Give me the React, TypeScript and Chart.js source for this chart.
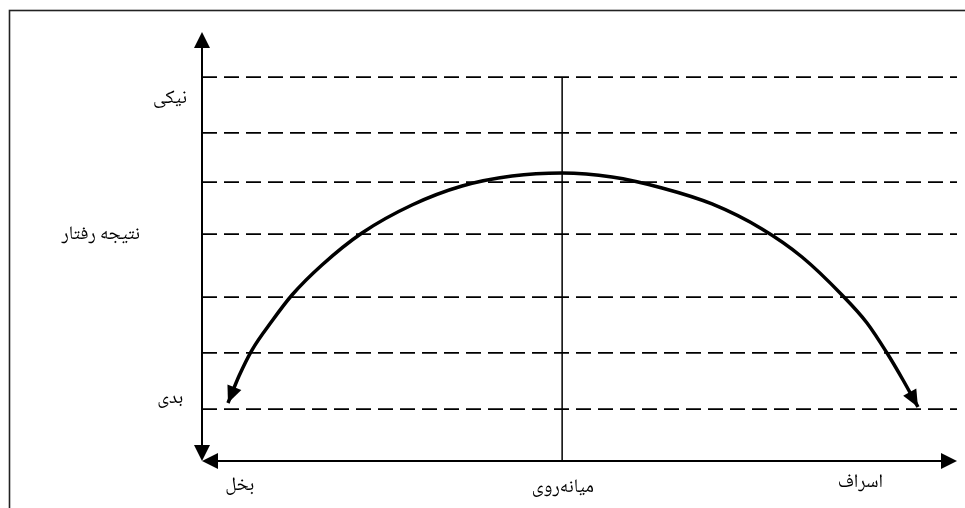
import React, { useEffect, useRef } from 'react';
import { Chart, registerables } from 'chart.js';

Chart.register(...registerables);

// Curve ("نتیجه رفتار" over the behaviour axis)
const curveX = [3.44, 4.90, 6.62, 9.27, 11.92, 15.89, 21.19, 27.81, 34.44, 41.06, 47.68, 54.30, 60.93, 67.55, 74.17, 79.47, 84.77, 88.08, 90.73, 92.85, 94.83];
const curveY = [13.52, 19.81, 25.87, 32.63, 38.69, 45.69, 53.15, 59.67, 64.10, 66.43, 67.13, 66.20, 63.64, 59.91, 54.08, 47.55, 38.69, 32.17, 25.17, 18.88, 12.59];

// Dashed horizontal levels
const dashedLevels = [89.5, 76.5, 65.0, 52.9, 38.2, 25.2, 12.1];
const dashedFrom = 0;
const dashedTo = 100;

// Middle vertical line
const middleX = 47.7;
const middleTop = 89.5;

// Axis labels
const yLabels = ['نیکی', 'نتیجه رفتار', 'بدی'];
const yLabelValues = [84.1, 52.2, 14.2];
const yLabelAnchorX = [-2.0, -8.2, -2.5];

const xLabels = ['بخل', 'میانه\u200cروی', 'اسراف'];
const xLabelValues = [5.0, 47.8, 87.2];
const xLabelY = [-6.2, -6.6, -5.6];

const FONT = '19px "Noto Naskh Arabic", "Liberation Serif", "DejaVu Serif", "DejaVu Sans", serif';

function arrowHead(ctx: CanvasRenderingContext2D, tipX: number, tipY: number, fromX: number, fromY: number, len: number, half: number) {
  const dx = tipX - fromX;
  const dy = tipY - fromY;
  const d = Math.hypot(dx, dy) || 1;
  const ux = dx / d;
  const uy = dy / d;
  const bx = tipX - ux * len;
  const by = tipY - uy * len;
  ctx.beginPath();
  ctx.moveTo(tipX, tipY);
  ctx.lineTo(bx - uy * half, by + ux * half);
  ctx.lineTo(bx + uy * half, by - ux * half);
  ctx.closePath();
  ctx.fill();
}

const diagramPlugin = {
  id: 'diagram',
  afterDatasetsDraw(chart: any) {
    const { ctx, scales } = chart;
    const xs = scales.x;
    const ys = scales.y;
    const x0 = xs.getPixelForValue(xs.min);
    const x1 = xs.getPixelForValue(xs.max);
    const y0 = ys.getPixelForValue(ys.min);
    const y1 = ys.getPixelForValue(ys.max);
    ctx.save();
    ctx.strokeStyle = '#000';
    ctx.fillStyle = '#000';
    ctx.lineWidth = 2;
    // y axis
    ctx.beginPath();
    ctx.moveTo(x0, y0 - 10);
    ctx.lineTo(x0, y1 + 10);
    ctx.stroke();
    // x axis
    ctx.beginPath();
    ctx.moveTo(x0 + 10, y0);
    ctx.lineTo(x1 - 10, y0);
    ctx.stroke();
    arrowHead(ctx, x0, y1, x0, y1 + 20, 16, 8);
    arrowHead(ctx, x0, y0, x0, y0 - 20, 16, 8);
    arrowHead(ctx, x0, y0, x0 + 20, y0, 16, 8);
    arrowHead(ctx, x1, y0, x1 - 20, y0, 16, 8);

    // curve arrowheads
    const pts = chart.getDatasetMeta(0).data;
    if (pts.length > 1) {
      const a = pts[0];
      const b = pts[1];
      arrowHead(ctx, a.x, a.y, b.x, b.y, 17, 7.5);
      const c = pts[pts.length - 1];
      const d = pts[pts.length - 2];
      arrowHead(ctx, c.x, c.y, d.x, d.y, 17, 7.5);
    }
    ctx.restore();
  },
  afterDraw(chart: any) {
    const { ctx, scales } = chart;
    const xs = scales.x;
    const ys = scales.y;
    ctx.save();
    ctx.fillStyle = '#000';
    ctx.font = FONT;
    ctx.textBaseline = 'middle';
    ctx.textAlign = 'right';
    yLabels.forEach((t, i) => {
      ctx.fillText(t, xs.getPixelForValue(yLabelAnchorX[i]), ys.getPixelForValue(yLabelValues[i]));
    });
    ctx.textAlign = 'center';
    xLabels.forEach((t, i) => {
      ctx.fillText(t, xs.getPixelForValue(xLabelValues[i]), ys.getPixelForValue(xLabelY[i]));
    });
    // outer frame
    ctx.strokeStyle = '#222';
    ctx.lineWidth = 1.6;
    ctx.strokeRect(9.5, 10.5, 1200, 1200);
    ctx.restore();
  },
};

export default function App() {
  const ref = useRef<HTMLCanvasElement | null>(null);

  useEffect(() => {
    if (!ref.current) return;
    const datasets: any[] = [];
    datasets.push({
      data: curveX.map((x, i) => ({ x, y: curveY[i] })),
      borderColor: '#000',
      borderWidth: 3.5,
      pointRadius: 0,
      cubicInterpolationMode: 'monotone',
      fill: false,
      clip: false,
    });
    dashedLevels.forEach((lv) => {
      datasets.push({
        data: [{ x: dashedFrom, y: lv }, { x: dashedTo, y: lv }],
        borderColor: '#000',
        borderWidth: 1.8,
        borderDash: [15, 7],
        pointRadius: 0,
        tension: 0,
        fill: false,
        clip: false,
      });
    });
    datasets.push({
      data: [{ x: middleX, y: middleTop }, { x: middleX, y: 0 }],
      borderColor: '#000',
      borderWidth: 1.5,
      pointRadius: 0,
      tension: 0,
      fill: false,
      clip: false,
    });

    const chart = new Chart(ref.current, {
      type: 'line',
      data: { datasets },
      options: {
        animation: false,
        responsive: false,
        maintainAspectRatio: false,
        layout: { padding: { left: 202, right: 8, top: 32, bottom: 47 } },
        scales: {
          x: { type: 'linear', min: 0, max: 100, display: false },
          y: { type: 'linear', min: 0, max: 100, display: false },
        },
        plugins: {
          legend: { display: false },
          tooltip: { enabled: false },
        },
        events: [],
      },
      plugins: [diagramPlugin],
    } as any);
    return () => chart.destroy();
  }, []);

  return (
    <div style={{ position: 'absolute', left: 0, top: 0, width: 965, height: 508, background: '#fff' }}>
      <canvas ref={ref} width={965} height={508} style={{ display: 'block', width: 965, height: 508 }} />
    </div>
  );
}
